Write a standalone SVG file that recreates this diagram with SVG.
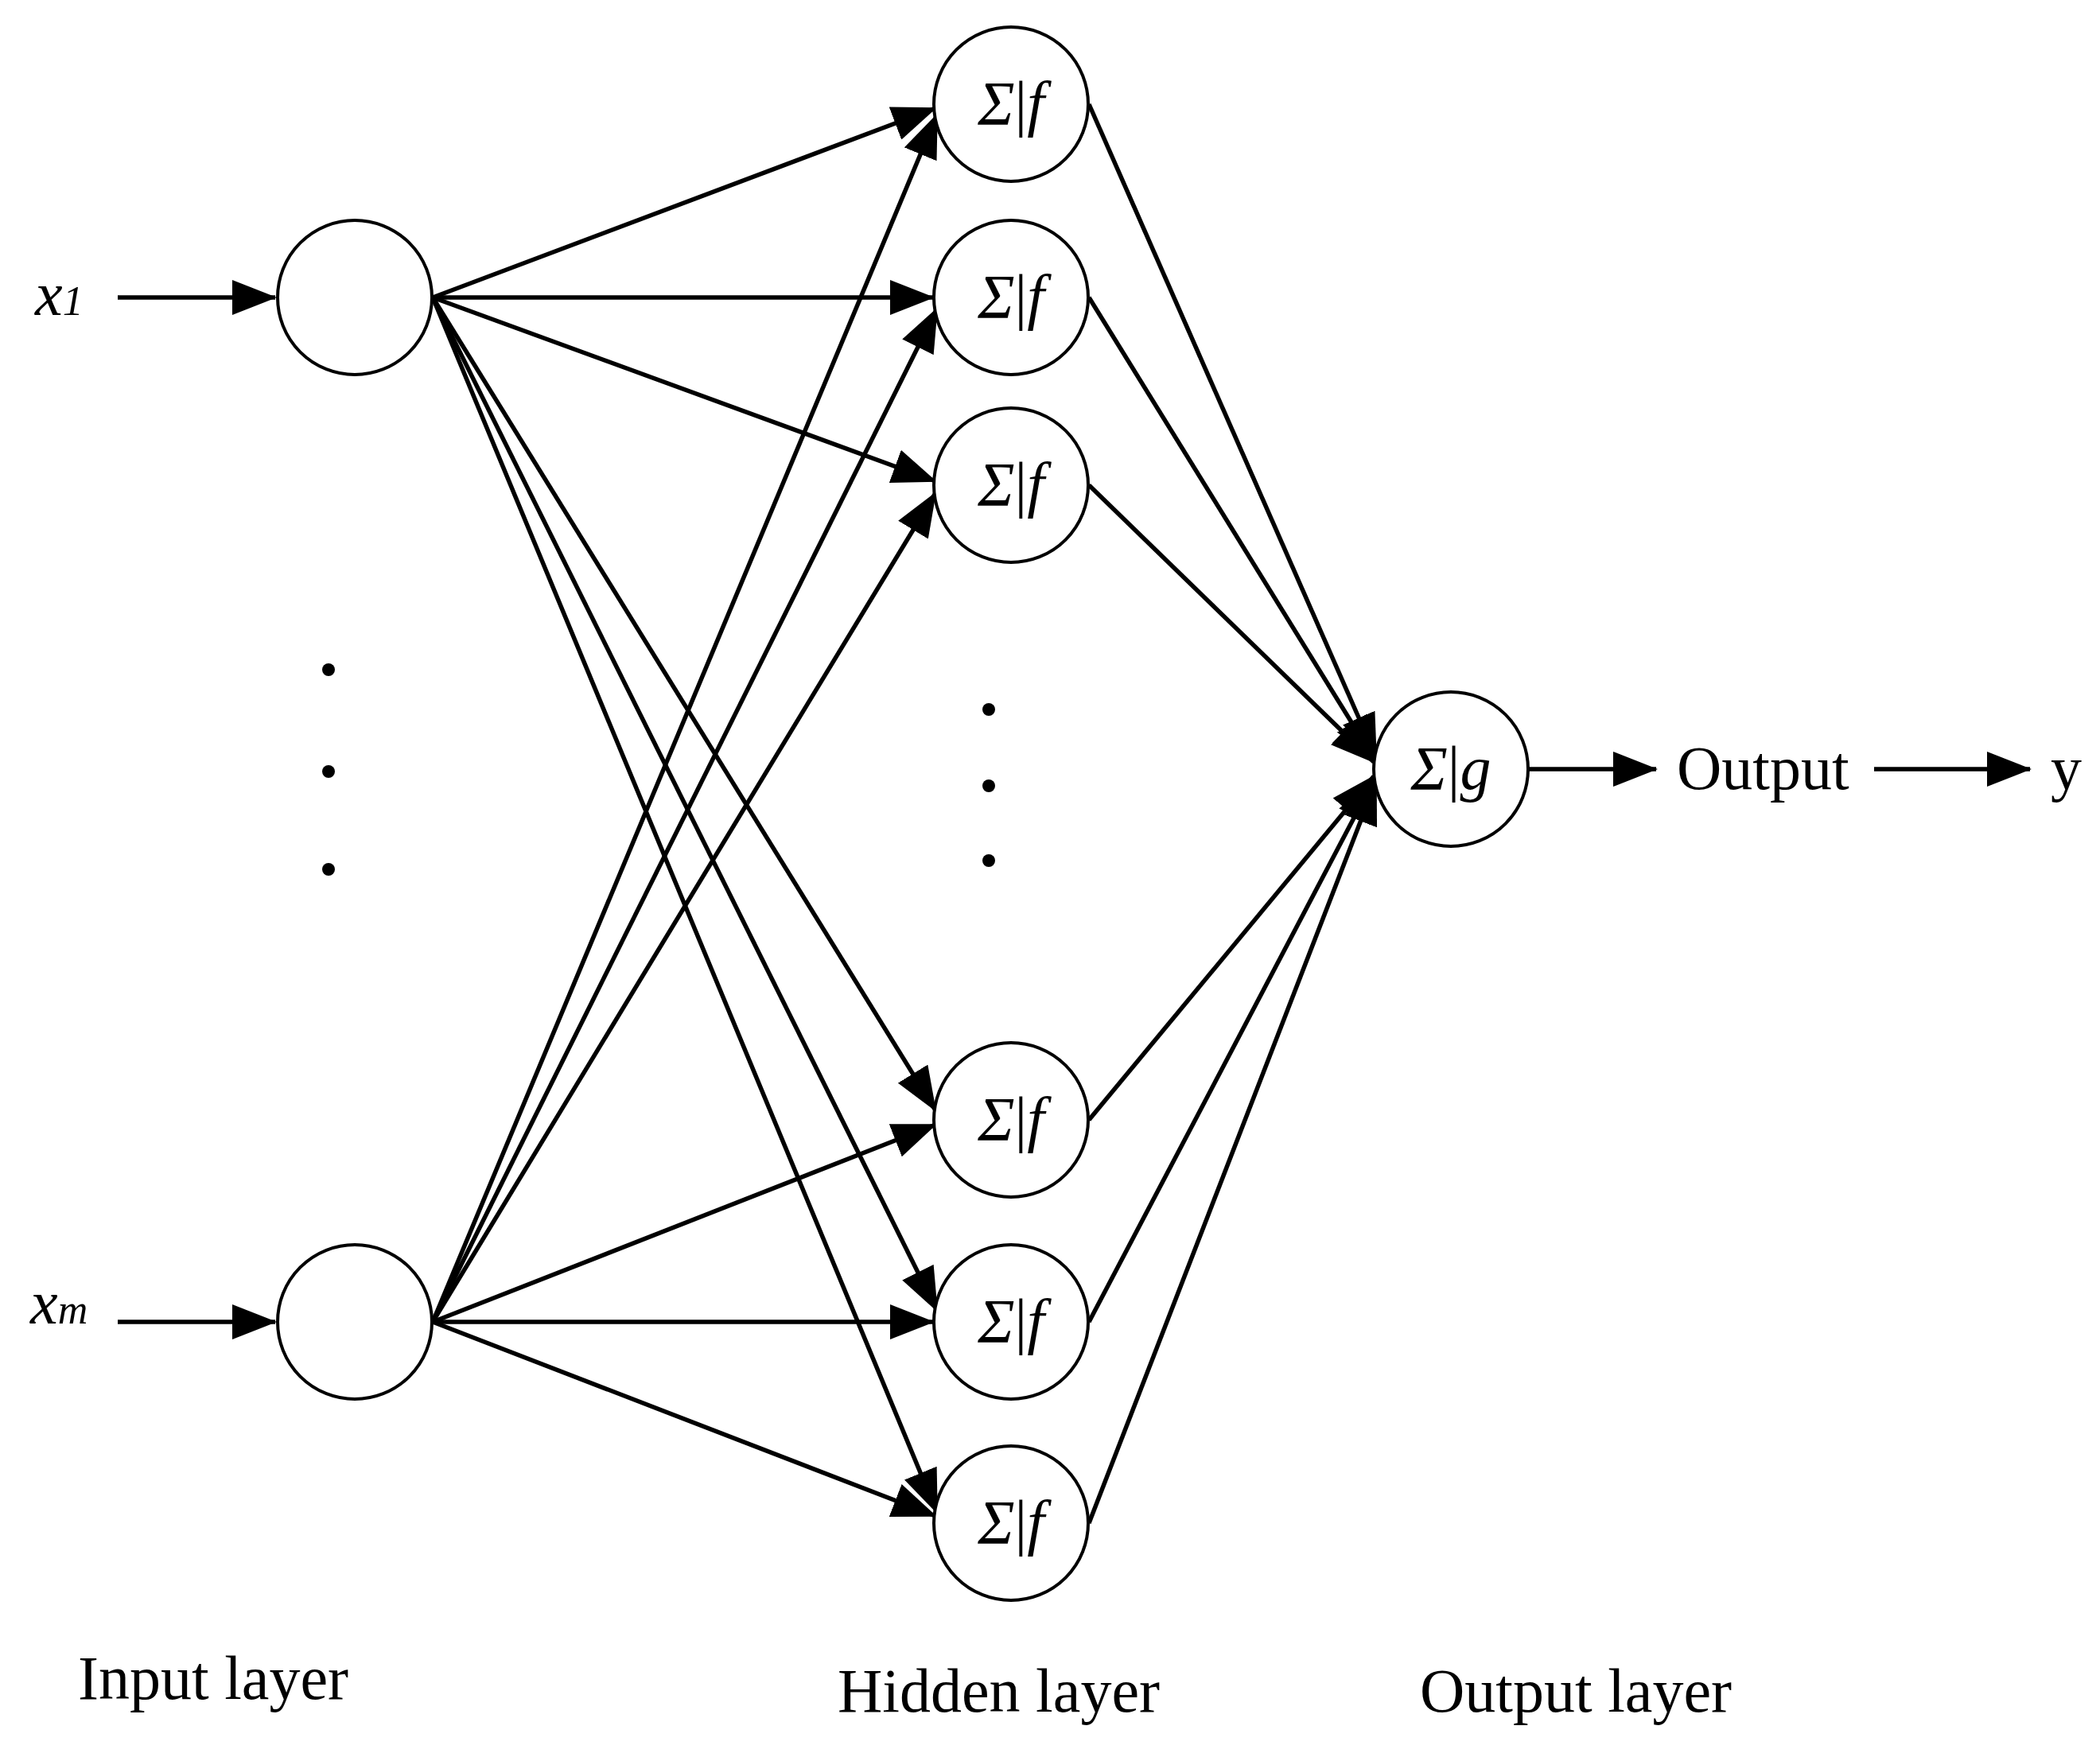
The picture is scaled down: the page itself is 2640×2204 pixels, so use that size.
<svg xmlns="http://www.w3.org/2000/svg" width="2640" height="2204" viewBox="0 0 2640 2204">
<defs>
<marker id="ah" markerUnits="userSpaceOnUse" markerWidth="56" markerHeight="44" refX="54" refY="22" orient="auto"><path d="M0,0 L56,22 L0,44 z" fill="#000"/></marker>
<style>
.n{fill:#fff;stroke:#000;stroke-width:4}
.c line{stroke:#000;stroke-width:5.5;marker-end:url(#ah)}
.t{font-family:"Liberation Serif",serif;font-size:78px;fill:#000}
.i{font-style:italic}
</style>
</defs>
<rect width="2640" height="2204" fill="#fff"/>
<g class="c" id="connectors">
<line x1="148" y1="374" x2="346" y2="374"/>
<line x1="148" y1="1662" x2="346" y2="1662"/>
<line x1="544" y1="374" x2="1176" y2="136"/>
<line x1="544" y1="374" x2="1173" y2="374"/>
<line x1="544" y1="374" x2="1176" y2="605"/>
<line x1="544" y1="374" x2="1176" y2="1396"/>
<line x1="544" y1="374" x2="1178" y2="1648"/>
<line x1="544" y1="374" x2="1178" y2="1902"/>
<line x1="544" y1="1662" x2="1178" y2="144"/>
<line x1="544" y1="1662" x2="1178" y2="388"/>
<line x1="544" y1="1662" x2="1176" y2="620"/>
<line x1="544" y1="1662" x2="1176" y2="1414"/>
<line x1="544" y1="1662" x2="1173" y2="1662"/>
<line x1="544" y1="1662" x2="1176" y2="1906"/>
<line x1="1369" y1="131" x2="1730" y2="952"/>
<line x1="1369" y1="374" x2="1728" y2="955"/>
<line x1="1369" y1="610" x2="1727" y2="958"/>
<line x1="1369" y1="1408" x2="1727" y2="976"/>
<line x1="1369" y1="1662" x2="1728" y2="979"/>
<line x1="1369" y1="1915" x2="1730" y2="982"/>
<line x1="1922" y1="967" x2="2082" y2="967"/>
<line x1="2356" y1="967" x2="2552" y2="967"/>
</g>
<g id="in1"><circle class="n" cx="446" cy="374" r="97"/><text class="t i" x="44" y="396">x<tspan font-size="52">1</tspan></text></g>
<g id="inm"><circle class="n" cx="446" cy="1662" r="97"/><text class="t i" x="38" y="1664">x<tspan font-size="52">m</tspan></text></g>
<g id="indots" fill="#000"><circle cx="413" cy="842" r="8"/><circle cx="413" cy="970" r="8"/><circle cx="413" cy="1093" r="8"/></g>
<g id="h1"><circle class="n" cx="1271" cy="131" r="97"/><text class="t" x="1271" y="156" text-anchor="middle"><tspan class="i">Σ</tspan>|<tspan class="i">f</tspan></text></g>
<g id="h2"><circle class="n" cx="1271" cy="374" r="97"/><text class="t" x="1271" y="399" text-anchor="middle"><tspan class="i">Σ</tspan>|<tspan class="i">f</tspan></text></g>
<g id="h3"><circle class="n" cx="1271" cy="610" r="97"/><text class="t" x="1271" y="635" text-anchor="middle"><tspan class="i">Σ</tspan>|<tspan class="i">f</tspan></text></g>
<g id="h4"><circle class="n" cx="1271" cy="1408" r="97"/><text class="t" x="1271" y="1433" text-anchor="middle"><tspan class="i">Σ</tspan>|<tspan class="i">f</tspan></text></g>
<g id="h5"><circle class="n" cx="1271" cy="1662" r="97"/><text class="t" x="1271" y="1687" text-anchor="middle"><tspan class="i">Σ</tspan>|<tspan class="i">f</tspan></text></g>
<g id="h6"><circle class="n" cx="1271" cy="1915" r="97"/><text class="t" x="1271" y="1940" text-anchor="middle"><tspan class="i">Σ</tspan>|<tspan class="i">f</tspan></text></g>
<g id="hdots" fill="#000"><circle cx="1243" cy="892" r="8"/><circle cx="1243" cy="988" r="8"/><circle cx="1243" cy="1082" r="8"/></g>
<g id="out"><circle class="n" cx="1824" cy="967" r="97"/><text class="t" x="1824" y="992" text-anchor="middle"><tspan class="i">Σ</tspan>|<tspan class="i">g</tspan></text></g>
<g id="labels">
<text class="t" x="2108" y="992">Output</text>
<text class="t" x="2578" y="992">y</text>
<text class="t" x="98" y="2136">Input layer</text>
<text class="t" x="1053" y="2152">Hidden layer</text>
<text class="t" x="1785" y="2152">Output layer</text>
</g>
</svg>
